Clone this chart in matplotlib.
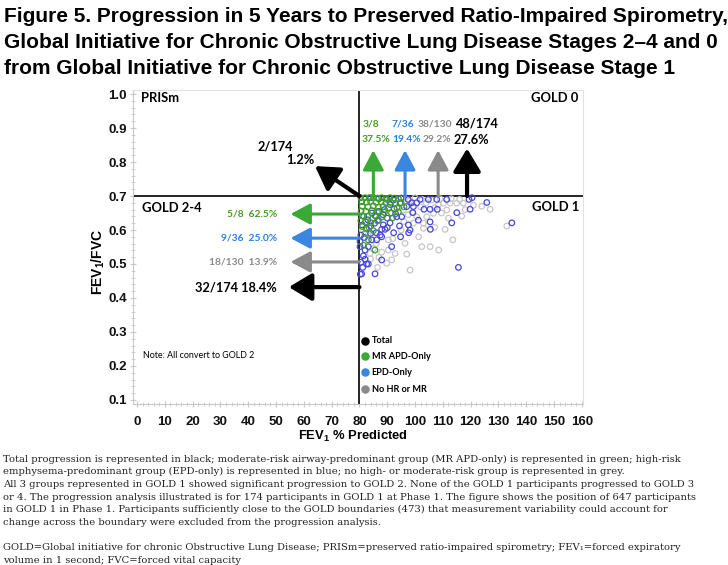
import matplotlib
matplotlib.use("Agg")
import matplotlib.pyplot as plt
from matplotlib.ticker import MultipleLocator

plt.rcParams['mathtext.fontset'] = 'custom'
plt.rcParams['mathtext.bf'] = 'Liberation Sans:bold'
plt.rcParams['mathtext.rm'] = 'Liberation Sans'

# ---------------- data ----------------
x_ticks = [0, 10, 20, 30, 40, 50, 60, 70, 80, 90, 100, 110, 120, 130, 140, 150, 160]
y_ticks = [0.1, 0.2, 0.3, 0.4, 0.5, 0.6, 0.7, 0.8, 0.9, 1.0]

fev1_cut = 80
ratio_cut = 0.7

gray_x = [133, 127, 116.8, 113.6, 110.8, 108.5, 105.4, 102.4, 101.3, 98.2, 97, 91.6, 90.4, 90.4, 96.4,
          99.4, 103, 104.2, 106.6, 112.6, 115, 117.4, 110.2, 111.4, 108.4, 83.8, 89.8, 92.8, 100.6, 95.8,
          97.5, 102, 104, 106, 109, 113, 116, 100, 96, 98, 102.5, 107, 109.5, 103, 107, 95, 92, 86, 88,
          84, 86.5, 112, 118, 121, 124, 96, 99, 81, 83, 85, 87]
gray_y = [0.612, 0.661, 0.641, 0.571, 0.602, 0.541, 0.551, 0.551, 0.580, 0.482, 0.529, 0.512, 0.541, 0.571, 0.561,
          0.620, 0.620, 0.639, 0.649, 0.679, 0.679, 0.679, 0.679, 0.659, 0.674, 0.531, 0.502, 0.531, 0.639, 0.659,
          0.645, 0.668, 0.680, 0.688, 0.692, 0.692, 0.690, 0.695, 0.695, 0.685, 0.690, 0.666, 0.650, 0.605, 0.608, 0.600, 0.575, 0.560, 0.535,
          0.515, 0.490, 0.635, 0.660, 0.673, 0.670, 0.625, 0.652, 0.600, 0.585, 0.545, 0.520]

blue_x = [84, 87, 90, 92.2, 95, 97.5, 101.8, 104.8, 107.8, 111.4, 119.4, 120.5,
          94.6, 98.8, 100.6, 97, 99.4, 103.2, 105.4, 108, 119.8, 125.8, 115, 99.2,
          134.8, 113.2, 105.4, 105.5, 115.6, 101.2, 97.6, 98.2, 97.7, 94.8, 92.3, 94.4, 95.2, 93.4, 91, 89.2,
          88, 88.6, 86.8, 88, 86.2, 84.4, 83.2, 82, 81.4, 82, 88, 91.6, 83.2, 82.6, 80.8, 85.6, 80.2, 80.2,
          81, 82.5, 84, 85.5, 83, 86, 88.5, 90, 89, 91, 92.5, 93, 87, 84.5, 81.5, 80.5, 81.8, 84, 86, 90,
          87.5, 80.5, 81.2, 80.3]
blue_y = [0.695, 0.692, 0.690, 0.688, 0.694, 0.690, 0.690, 0.690, 0.690, 0.690, 0.690, 0.695,
          0.679, 0.680, 0.680, 0.669, 0.669, 0.661, 0.661, 0.661, 0.661, 0.681, 0.651, 0.651,
          0.621, 0.621, 0.624, 0.602, 0.490, 0.629, 0.615, 0.600, 0.592, 0.580, 0.592, 0.612, 0.639, 0.639, 0.621, 0.602,
          0.602, 0.615, 0.629, 0.580, 0.571, 0.571, 0.551, 0.541, 0.524, 0.514, 0.512, 0.551, 0.500, 0.500, 0.471, 0.471, 0.551, 0.566,
          0.615, 0.605, 0.612, 0.620, 0.630, 0.640, 0.645, 0.635, 0.660, 0.675, 0.662, 0.648, 0.655, 0.650, 0.640, 0.585, 0.578, 0.590, 0.592, 0.607,
          0.585, 0.505, 0.490, 0.470]

green_x = [80.5, 82, 83.5, 85, 86.5, 88, 89.5, 91, 92.5, 94,
           80.8, 82.5, 84, 86, 87.8, 89.5, 91.2, 93, 95,
           81, 83, 85, 86.8, 88.5, 90.5, 93.5, 96,
           80.6, 82.3, 84.5, 86.5, 89, 91.5, 94,
           81, 83, 85.5, 88, 92,
           80.5, 82.2, 84, 86.5,
           81, 83.5, 85, 82, 83.2, 85.6, 81.5]
green_y = [0.695, 0.695, 0.695, 0.696, 0.694, 0.695, 0.693, 0.695, 0.694, 0.692,
           0.683, 0.682, 0.684, 0.681, 0.683, 0.680, 0.682, 0.678, 0.680,
           0.670, 0.668, 0.671, 0.667, 0.669, 0.666, 0.665, 0.668,
           0.656, 0.655, 0.657, 0.654, 0.652, 0.650, 0.653,
           0.642, 0.640, 0.643, 0.638, 0.636,
           0.627, 0.624, 0.622, 0.627,
           0.610, 0.607, 0.598, 0.590, 0.571, 0.541, 0.555]

# progression arrows
groups = ['MR APD-Only', 'EPD-Only', 'No HR or MR', 'Total']
group_colors = ['#3aa935', '#3b86e0', '#8a8a8a', '#000000']
label_colors = ['#4a9a2a', '#2f7fe0', '#8a8a8a', '#000000']
up_frac = ['3/8', '7/36', '38/130', '48/174']
up_pct = ['37.5%', '19.4%', '29.2%', '27.6%']
up_x = [85, 96.4, 108.3, 118.7]
up_tip = [0.835, 0.835, 0.835, 0.84]
up_frac_x = [84.3, 95.5, 107.0, 122.6]
up_pct_x = [86.0, 97.0, 107.8, 120.2]
left_label = ['5/8  62.5%', '9/36  25.0%', '18/130  13.9%', '32/174 18.4%']
left_y = [0.647, 0.576, 0.506, 0.432]
left_tip = [55.2, 55.2, 55.2, 54.6]
prism_frac, prism_pct = '2/174', '1.2%'
prism_tip = (64.0, 0.788)

# ---------------- figure ----------------
fig = plt.figure(figsize=(7.28, 5.65), dpi=100)
ax = fig.add_axes([133/728, 1-404/565, 450/728, 314/565])
ax.set_xlim(-1.44, 160.4)
ax.set_ylim(0.088, 1.012)

spine_c = '#c8c8c8'
for s in ax.spines.values():
    s.set_color(spine_c)
    s.set_linewidth(0.8)
ax.spines['top'].set_color('#e2e2e2')
ax.spines['right'].set_color('#e2e2e2')

ax.set_xticks(x_ticks)
ax.set_yticks(y_ticks)
ax.set_xticklabels([str(t) for t in x_ticks])
ax.set_yticklabels([f'{t:.1f}' for t in y_ticks])
ax.xaxis.set_minor_locator(MultipleLocator(2))
ax.yaxis.set_minor_locator(MultipleLocator(0.02))
ax.tick_params(which='major', direction='inout', length=5, color=spine_c, width=0.8)
ax.tick_params(axis='x', which='major', pad=6)
ax.tick_params(axis='y', which='major', pad=2)
ax.tick_params(which='minor', direction='inout', length=3, color=spine_c, width=0.6)
for lab in ax.get_xticklabels() + ax.get_yticklabels():
    lab.set_fontfamily('Liberation Sans')
    lab.set_fontweight('bold')
    lab.set_fontsize(9.5)
    lab.set_color('#111111')

# quadrant lines
ax.axvline(fev1_cut, color='black', lw=1.2, zorder=2)
ax.axhline(ratio_cut, color='black', lw=1.2, zorder=2)

# scatter
ax.scatter(gray_x, gray_y, s=16, facecolors='none', edgecolors='#c6c6c6', linewidths=0.9, zorder=3)
ax.scatter(blue_x, blue_y, s=16, facecolors='none', edgecolors='#4848d8', linewidths=0.9, zorder=4)
ax.scatter(green_x, green_y, s=16, facecolors='none', edgecolors='#3c9e2c', linewidths=0.9, zorder=5)

# arrows
for i in range(4):
    black = (i == 3)
    style = ('-|>,head_length=0.7,head_width=0.42' if black
             else '-|>,head_length=0.6,head_width=0.32')
    lw = 3.0 if black else 2.2
    ax.annotate('', xy=(up_x[i], up_tip[i]), xytext=(up_x[i], ratio_cut),
                arrowprops=dict(arrowstyle=style, lw=lw, color=group_colors[i],
                                mutation_scale=20, shrinkA=0, shrinkB=0), zorder=6)
    ax.annotate('', xy=(left_tip[i], left_y[i]), xytext=(fev1_cut, left_y[i]),
                arrowprops=dict(arrowstyle=style, lw=lw, color=group_colors[i],
                                mutation_scale=20, shrinkA=0, shrinkB=0), zorder=6)
    fs = 9.2 if black else 7.4
    ax.text(up_frac_x[i], 0.912, up_frac[i], color=label_colors[i], fontsize=fs,
            fontweight='bold', family='Lato', ha='center', va='center')
    ax.text(up_pct_x[i], 0.866, up_pct[i], color=label_colors[i], fontsize=fs,
            fontweight='bold', family='Lato', ha='center', va='center')
    ax.text(50.4, left_y[i], left_label[i], color=label_colors[i], fontsize=fs,
            fontweight='bold', family='Lato', ha='right', va='center')

ax.annotate('', xy=prism_tip, xytext=(fev1_cut, ratio_cut),
            arrowprops=dict(arrowstyle='-|>,head_length=0.7,head_width=0.42', lw=3.0,
                            color='black', mutation_scale=20, shrinkA=0, shrinkB=0), zorder=6)
ax.text(49.6, 0.847, prism_frac, fontsize=9.2, fontweight='bold', family='Lato', ha='center', va='center')
ax.text(58.6, 0.806, prism_pct, fontsize=9.2, fontweight='bold', family='Lato', ha='center', va='center')

# quadrant labels
qfs = 9.4
ax.text(1.4, 0.988, 'PRISm', fontsize=qfs, fontweight='bold', family='Lato', ha='left', va='center')
ax.text(158.6, 0.988, 'GOLD 0', fontsize=qfs, fontweight='bold', family='Lato', ha='right', va='center')
ax.text(1.8, 0.666, 'GOLD 2-4', fontsize=qfs, fontweight='bold', family='Lato', ha='left', va='center')
ax.text(159.0, 0.668, 'GOLD 1', fontsize=qfs, fontweight='bold', family='Lato', ha='right', va='center')
ax.text(2.2, 0.232, 'Note: All convert to GOLD 2', fontsize=6.4, family='Lato', ha='left', va='center')

# legend
leg_y = [0.274, 0.229, 0.182, 0.132]
leg_order = [3, 0, 1, 2]
for yy, gi in zip(leg_y, leg_order):
    ax.scatter([82.0], [yy], s=26, color=group_colors[gi], zorder=7)
    ax.text(84.4, yy, groups[gi], fontsize=6.6, fontweight='bold', family='Lato', ha='left', va='center')

# axis labels
fig.text(353/728, 1-436/565, r'FEV$_\mathbf{1}$ % Predicted', fontsize=9.4, fontweight='bold',
         family='Liberation Sans', ha='center', va='center')
fig.text(98/728, 1-262/565, r'FEV$_\mathbf{1}$/FVC', fontsize=10, fontweight='bold',
         family='Liberation Sans', ha='center', va='center', rotation=90)

# title
title_lines = ['Figure 5. Progression in 5 Years to Preserved Ratio-Impaired Spirometry,',
               'Global Initiative for Chronic Obstructive Lung Disease Stages 2\u20134 and 0',
               'from Global Initiative for Chronic Obstructive Lung Disease Stage 1']
for k, line in enumerate(title_lines):
    fig.text(4/728, 1-(17 + 25.5*k)/565, line, fontsize=15, fontweight='bold',
             family='Liberation Sans', ha='left', va='center')

# caption
caption = ['Total progression is represented in black; moderate-risk airway-predominant group (MR APD-only) is represented in green; high-risk',
           'emphysema-predominant group (EPD-only) is represented in blue; no high- or moderate-risk group is represented in grey.',
           'All 3 groups represented in GOLD 1 showed significant progression to GOLD 2. None of the GOLD 1 participants progressed to GOLD 3',
           'or 4. The progression analysis illustrated is for 174 participants in GOLD 1 at Phase 1. The figure shows the position of 647 participants',
           'in GOLD 1 in Phase 1. Participants sufficiently close to the GOLD boundaries (473) that measurement variability could account for',
           'change across the boundary were excluded from the progression analysis.',
           '',
           'GOLD=Global initiative for chronic Obstructive Lung Disease; PRISm=preserved ratio-impaired spirometry; FEV\u2081=forced expiratory',
           'volume in 1 second; FVC=forced vital capacity']
for k, line in enumerate(caption):
    if line:
        fig.text(3/728, 1-(459 + 12.7*k)/565, line, fontsize=7.2, family='DejaVu Serif',
                 ha='left', va='center', color='#222222')

fig.savefig('out.png', dpi=100)
